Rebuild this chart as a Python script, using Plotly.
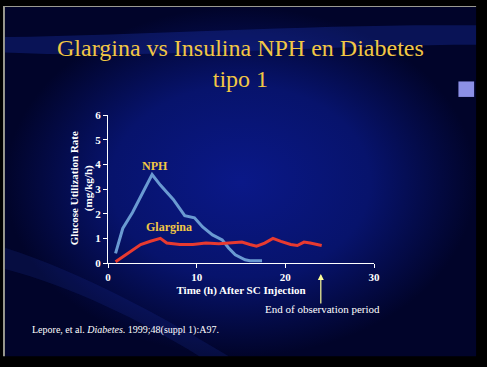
import plotly.graph_objects as go

# ---- data ----
nph_x = [0.85, 1.66, 2.76, 3.68, 4.97, 5.9, 7.36, 8.65, 9.75, 10.67, 11.78, 12.88, 13.6, 14.35, 15.46, 16.0, 17.37]
nph_y = [0.39, 1.40, 2.05, 2.70, 3.59, 3.16, 2.58, 1.92, 1.83, 1.46, 1.14, 0.94, 0.61, 0.33, 0.13, 0.09, 0.09]
gla_x = [0.85, 1.66, 2.58, 3.68, 4.78, 5.9, 6.63, 8.1, 9.57, 11.04, 12.5, 14.0, 15.1, 16.0, 16.75, 17.67, 18.6, 19.5, 20.6, 21.35, 22.1, 22.8, 24.1]
gla_y = [0.05, 0.25, 0.48, 0.75, 0.88, 1.00, 0.81, 0.75, 0.75, 0.81, 0.78, 0.81, 0.85, 0.75, 0.68, 0.81, 1.00, 0.88, 0.75, 0.71, 0.85, 0.81, 0.71]
x_ticks = [0, 10, 20, 30]
y_ticks = [0, 1, 2, 3, 4, 5, 6]
end_obs = 24

W, H = 487, 367
def px(x): return x / W
def py(y): return 1 - y / H

SERIF = "Liberation Serif, Times New Roman, serif"
GOLD = "#f2c744"

fig = go.Figure()

# background slide (radial gradient) on full-paper axes
fig.add_trace(go.Scatter(
    x=[2, 482, 482, 2, 2], y=[1, 1, 362, 362, 1],
    xaxis="x", yaxis="y", mode="lines", line=dict(width=0),
    fill="toself",
    fillgradient=dict(type="radial",
                      colorscale=[[0, "#0a1888"], [0.55, "#07136c"], [1, "#01042a"]]),
    hoverinfo="skip", showlegend=False))

# data traces
fig.add_trace(go.Scatter(x=nph_x, y=nph_y, xaxis="x2", yaxis="y2", mode="lines",
                         line=dict(color="#6a9ad2", width=3), showlegend=False))
fig.add_trace(go.Scatter(x=gla_x, y=gla_y, xaxis="x2", yaxis="y2", mode="lines",
                         line=dict(color="#e83a30", width=3), showlegend=False))

shapes = [
    # gray slide edge
    dict(type="rect", xref="paper", yref="paper", x0=0, x1=px(482), y0=py(1), y1=1,
         fillcolor="#9a9a90", line=dict(width=0), layer="above"),
    dict(type="rect", xref="paper", yref="paper", x0=0, x1=px(2), y0=py(362), y1=1,
         fillcolor="#9a9a90", line=dict(width=0), layer="above"),
    # subtle swirl bands
    dict(type="path", xref="paper", yref="paper", layer="above",
         path=f"M {px(2)} {py(32)} C {px(150)} {py(30)}, {px(330)} {py(18)}, {px(482)} {py(20)} "
              f"L {px(482)} {py(40)} C {px(330)} {py(40)}, {px(150)} {py(55)}, {px(2)} {py(48)} Z",
         fillcolor="rgba(30,55,190,0.30)", line=dict(width=0)),
    dict(type="path", xref="paper", yref="paper", layer="above",
         path=f"M {px(2)} {py(250)} C {px(80)} {py(275)}, {px(160)} {py(320)}, {px(230)} {py(362)} "
              f"L {px(200)} {py(362)} C {px(140)} {py(325)}, {px(70)} {py(290)}, {px(2)} {py(272)} Z",
         fillcolor="rgba(40,70,200,0.15)", line=dict(width=0)),
    # lilac square at right
    dict(type="rect", xref="paper", yref="paper",
         x0=px(464), x1=px(480), y0=py(94), y1=py(78),
         fillcolor="#8c90e6", line=dict(width=0), layer="above"),
]

def A(**kw):
    d = dict(showarrow=False, xanchor="center", yanchor="middle")
    d.update(kw)
    return d

ann = [
    A(text="Glargina vs Insulina NPH en Diabetes<br>tipo 1", xref="paper", yref="paper",
      x=px(242), y=py(59), font=dict(family=SERIF, size=24, color=GOLD), align="center"),
    A(text="<b>NPH</b>", xref="x2", yref="y2", x=5.3, y=3.95,
      font=dict(family=SERIF, size=12, color=GOLD)),
    A(text="<b>Glargina</b>", xref="x2", yref="y2", x=6.9, y=1.45,
      font=dict(family=SERIF, size=12, color=GOLD)),
    A(text="<b>Glucose Utilization Rate<br>(mg/kg/h)</b>", xref="paper", yref="paper",
      x=px(80), y=py(189), textangle=-90,
      font=dict(family=SERIF, size=11, color="white")),
    dict(text="", xref="x2", yref="paper", x=end_obs, y=py(277), ax=0, ay=31,
         showarrow=True, arrowhead=2, arrowsize=1, arrowwidth=1.2, arrowcolor="#ffff99"),
    A(text="End of observation period", xref="paper", yref="paper",
      x=px(326), y=py(313), font=dict(family=SERIF, size=11, color="white")),
    A(text="Lepore, et al. <i>Diabetes</i>. 1999;48(suppl 1):A97.", xref="paper", yref="paper",
      x=px(27), y=py(335), xanchor="left", font=dict(family=SERIF, size=10, color="white")),
]

axfont = dict(family=SERIF, size=11, color="white")
fig.update_layout(
    width=W, height=H, margin=dict(l=0, r=0, t=0, b=0),
    paper_bgcolor="#000000", plot_bgcolor="rgba(0,0,0,0)",
    shapes=shapes, annotations=ann,
    xaxis=dict(domain=[0, 1], range=[0, W], visible=False, fixedrange=True),
    yaxis=dict(domain=[0, 1], range=[H, 0], visible=False, fixedrange=True),
    xaxis2=dict(domain=[px(107), px(378)], range=[0, 30], anchor="y2",
                tickvals=x_ticks, ticktext=[f"<b>{v}</b>" for v in x_ticks],
                ticks="outside", ticklen=4, tickcolor="white", showline=True,
                linecolor="white", linewidth=1, showgrid=False, zeroline=False,
                tickfont=axfont,
                title=dict(text="<b>Time (h) After SC Injection</b>", font=axfont, standoff=4)),
    yaxis2=dict(domain=[py(265.7), py(112.7)], range=[0, 6], anchor="x2",
                tickvals=y_ticks, ticktext=[f"<b>{v}</b>" for v in y_ticks],
                ticks="outside", ticklen=4, tickcolor="white", showline=True,
                linecolor="white", linewidth=1, showgrid=False, zeroline=False,
                tickfont=axfont),
)

fig.write_html("out.html", config={"displayModeBar": False},
               post_script="document.body.style.margin='0';")
